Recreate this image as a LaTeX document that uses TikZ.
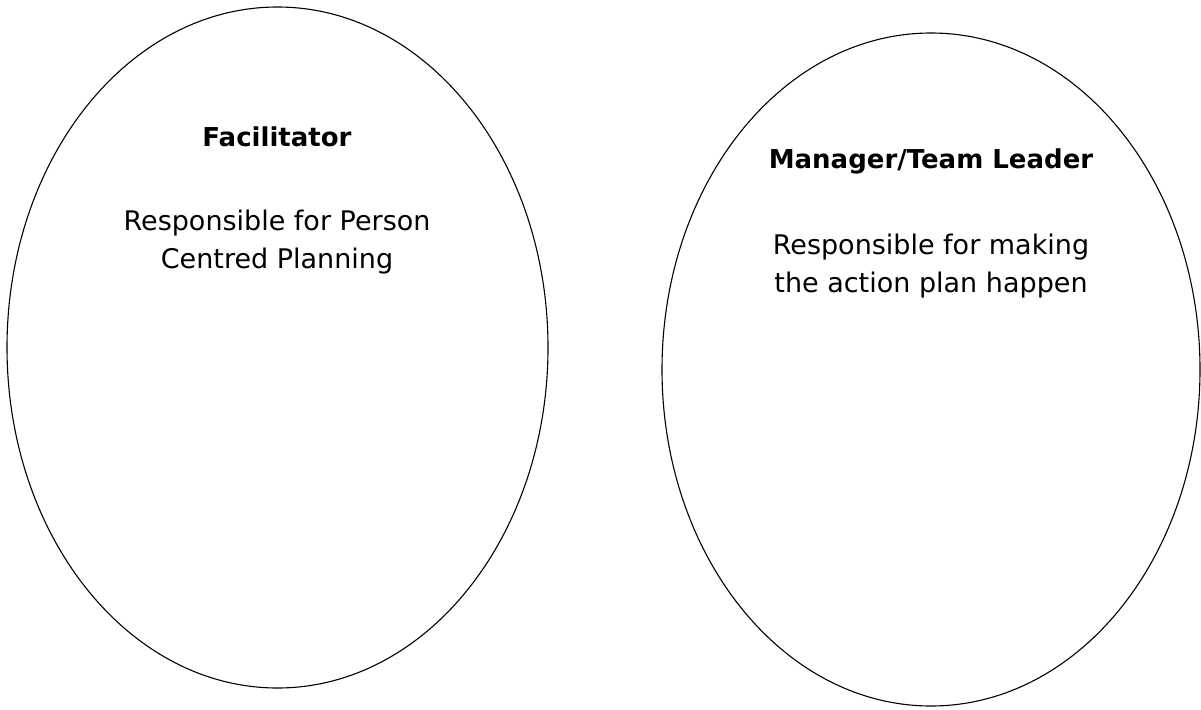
\documentclass[tikz,border=0pt]{standalone}
\usepackage{fontspec}
\setmainfont{DejaVu Sans}
\usetikzlibrary{shapes.geometric}
\begin{document}
\begin{tikzpicture}[
  x=1pt, y=-1pt,
  oval/.style={ellipse, draw, line width=1.1pt, inner sep=0pt},
  title/.style={font=\fontsize{26}{38}\selectfont\bfseries, align=center},
  body/.style={font=\fontsize{27}{38}\selectfont, align=center},
  node distance=105pt
]
\useasboundingbox (0,0) rectangle (1201,709);

% Ovals
\node[oval, minimum width=541pt, minimum height=681pt] (facoval) at (277.5,347.5) {};
\node[oval, minimum width=538pt, minimum height=673pt] (mgroval) at (931,369.5) {};

% Labels
\node[title] (factitle) at (277,137) {Facilitator};
\node[body, below of=factitle] (facbody) {Responsible for Person\\Centred Planning};
\node[title] (mgrtitle) at (931,161) {Manager/Team Leader};
\node[body, below of=mgrtitle] (mgrbody) {Responsible for making\\the action plan happen};
\end{tikzpicture}
\end{document}
